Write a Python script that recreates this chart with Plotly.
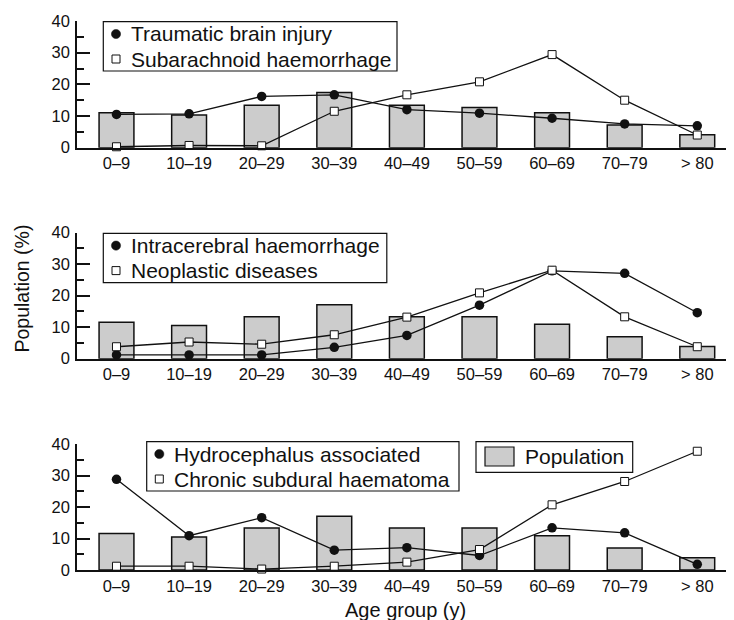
import plotly.graph_objects as go

age_groups = ["0–9", "10–19", "20–29", "30–39", "40–49", "50–59", "60–69", "70–79", "> 80"]

population_top = [11.0, 10.3, 13.4, 17.4, 13.4, 12.7, 11.0, 7.2, 4.1]
population = [11.6, 10.5, 13.3, 17.1, 13.3, 13.3, 10.9, 7.0, 3.9]

traumatic_brain_injury = [10.5, 10.7, 16.2, 16.7, 12.0, 10.9, 9.3, 7.5, 6.9]
subarachnoid_haemorrhage = [0.3, 0.7, 0.6, 11.5, 16.7, 20.8, 29.4, 15.0, 4.0]

intracerebral_haemorrhage = [1.2, 1.2, 1.2, 3.6, 7.4, 17.0, 27.9, 27.1, 14.6]
neoplastic_diseases = [3.8, 5.3, 4.6, 7.6, 13.2, 20.9, 28.1, 13.3, 3.8]

hydrocephalus_associated = [28.8, 10.9, 16.6, 6.3, 7.1, 4.6, 13.4, 11.8, 1.8]
chronic_subdural_haematoma = [1.2, 1.2, 0.3, 1.2, 2.5, 6.5, 20.7, 28.1, 37.7]

FONT = "Liberation Sans, Arial, sans-serif"
INK = "#111111"
BAR_FILL = "#cccccc"

# page offset (browser body margin)
OFF = 8
W, H = 734 - OFF, 620 - OFF
ML, MR, MT, MB = 69, 0, 13, 50
PW = W - ML - MR
PH = H - MT - MB


def px(page_x):
    return (page_x - OFF - ML) / PW


def py(page_y):
    return (H - MB - (page_y - OFF)) / PH


panels = [
    dict(bars=population_top, circ=traumatic_brain_injury, sq=subarachnoid_haemorrhage,
         circ_name="Traumatic brain injury", sq_name="Subarachnoid haemorrhage",
         dom=[py(147.7), py(21)], box=(103.3, 21.7, 397), key_x=116, text_x=130),
    dict(bars=population, circ=intracerebral_haemorrhage, sq=neoplastic_diseases,
         circ_name="Intracerebral haemorrhage", sq_name="Neoplastic diseases",
         dom=[py(358.7), py(232.7)], box=(103.3, 233.3, 386.8), key_x=116, text_x=130),
    dict(bars=population, circ=hydrocephalus_associated, sq=chronic_subdural_haematoma,
         circ_name="Hydrocephalus associated", sq_name="Chronic subdural haematoma",
         dom=[py(570), py(444)], box=(146.7, 441.7, 459), key_x=159.3, text_x=173.3),
]

fig = go.Figure()
shapes = []
annotations = []
LEG_FONT = dict(family=FONT, size=21, color=INK)

for i, p in enumerate(panels):
    n = "" if i == 0 else str(i + 1)
    xa, ya = "x" + n, "y" + n
    fig.add_trace(go.Bar(
        x=age_groups, y=p["bars"], xaxis=xa, yaxis=ya, width=0.48,
        marker=dict(color=BAR_FILL, line=dict(color=INK, width=1.5)),
        name="Population", showlegend=False,
    ))
    for vals in (p["circ"], p["sq"]):
        fig.add_trace(go.Scatter(
            x=age_groups, y=vals, xaxis=xa, yaxis=ya, mode="lines",
            line=dict(color=INK, width=1.3), showlegend=False, cliponaxis=False,
            hoverinfo="skip",
        ))
    fig.add_trace(go.Scatter(
        x=age_groups, y=p["circ"], xaxis=xa, yaxis=ya, mode="markers",
        marker=dict(symbol="circle", size=9.5, color=INK, line=dict(width=0)),
        name=p["circ_name"], showlegend=False, cliponaxis=False,
    ))
    fig.add_trace(go.Scatter(
        x=age_groups, y=p["sq"], xaxis=xa, yaxis=ya, mode="markers",
        marker=dict(symbol="square", size=8, color="white", line=dict(color=INK, width=1)),
        name=p["sq_name"], showlegend=False, cliponaxis=False,
    ))

    fig.layout["xaxis" + n] = dict(
        domain=[0, 1], anchor=ya, type="category", range=[-0.544, 8.506],
        showline=True, linecolor=INK, linewidth=1.5, ticks="", showgrid=False,
        zeroline=False, tickfont=dict(family=FONT, size=16.5, color=INK),
    )
    fig.layout["yaxis" + n] = dict(
        domain=p["dom"], anchor=xa, range=[0, 40], dtick=10, tick0=0,
        showline=True, linecolor=INK, linewidth=1.5, ticks="inside", ticklen=13,
        tickwidth=1.5, tickcolor=INK, showgrid=False, zeroline=False,
        minor=dict(dtick=5, ticks="inside", ticklen=7, tickwidth=1.5, tickcolor=INK, showgrid=False),
        tickfont=dict(family=FONT, size=16.5, color=INK), ticklabelstandoff=2,
    )

    # legend box for this panel
    bx0, by0, bx1 = p["box"]
    by1 = by0 + 49.3
    shapes.append(dict(type="rect", xref="paper", yref="paper", layer="above",
                       x0=px(bx0), x1=px(bx1), y0=py(by1), y1=py(by0),
                       fillcolor="white", line=dict(color=INK, width=1.2)))
    cy1, cy2 = by0 + 12.3, by0 + 37.3
    kx = p["key_x"]
    shapes.append(dict(type="circle", xref="paper", yref="paper", layer="above",
                       x0=px(kx - 4.6), x1=px(kx + 4.6), y0=py(cy1 + 4.6), y1=py(cy1 - 4.6),
                       fillcolor=INK, line=dict(color=INK, width=0.5)))
    shapes.append(dict(type="rect", xref="paper", yref="paper", layer="above",
                       x0=px(kx - 4), x1=px(kx + 4), y0=py(cy2 + 4), y1=py(cy2 - 4),
                       fillcolor="white", line=dict(color=INK, width=1)))
    for name, cy in ((p["circ_name"], cy1), (p["sq_name"], cy2)):
        annotations.append(dict(text=name, xref="paper", yref="paper", x=px(p["text_x"]),
                                y=py(cy), xanchor="left", yanchor="middle", showarrow=False,
                                font=LEG_FONT, borderpad=0))

# population key box
shapes.append(dict(type="rect", xref="paper", yref="paper", layer="above",
                   x0=px(476), x1=px(632.7), y0=py(472.3), y1=py(441.7),
                   fillcolor="white", line=dict(color=INK, width=1.2)))
shapes.append(dict(type="rect", xref="paper", yref="paper", layer="above",
                   x0=px(485), x1=px(514), y0=py(466), y1=py(447),
                   fillcolor=BAR_FILL, line=dict(color=INK, width=1.2)))
annotations.append(dict(text="Population", xref="paper", yref="paper", x=px(524),
                        y=py(456.5), xanchor="left", yanchor="middle", showarrow=False,
                        font=LEG_FONT, borderpad=0))

annotations.append(dict(
    text="Population (%)", textangle=-90, xref="paper", yref="paper",
    x=px(21), y=py(288.5), xanchor="center", yanchor="middle", showarrow=False,
    font=dict(family=FONT, size=19.5, color=INK),
))
annotations.append(dict(
    text="Age group (y)", xref="paper", yref="paper",
    x=px(405.5), y=py(596.5), xanchor="center", yanchor="top", showarrow=False,
    font=dict(family=FONT, size=20, color=INK),
))

fig.update_layout(
    width=W, height=H, margin=dict(l=ML, r=MR, t=MT, b=MB, autoexpand=False),
    paper_bgcolor="white", plot_bgcolor="white", barmode="overlay",
    font=dict(family=FONT, color=INK), showlegend=False,
    shapes=shapes, annotations=annotations,
)

fig.write_html("out.html")
